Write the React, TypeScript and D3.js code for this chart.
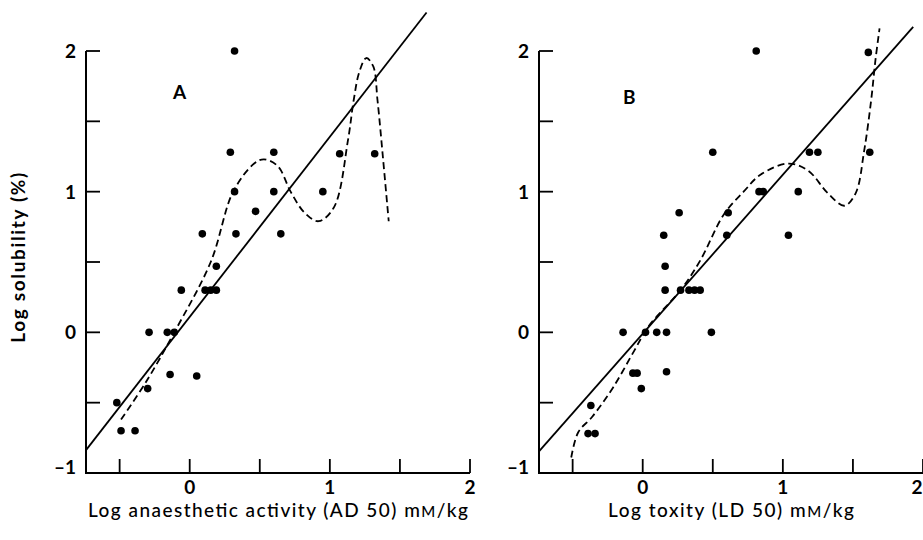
import { useEffect, useRef } from "react";
import * as d3 from "d3";

// values: [log x, log solubility]
const pointsA: [number, number][] = [
  [0.32, 2.0], [0.29, 1.28], [0.6, 1.28], [1.07, 1.27], [1.32, 1.27],
  [0.32, 1.0], [0.6, 1.0], [0.95, 1.0], [0.47, 0.86], [0.09, 0.7],
  [0.33, 0.7], [0.65, 0.7], [0.19, 0.47], [-0.06, 0.3], [0.11, 0.3],
  [0.15, 0.3], [0.19, 0.3], [-0.29, 0.0], [-0.16, 0.0], [-0.11, 0.0],
  [-0.14, -0.3], [0.05, -0.31], [-0.3, -0.4], [-0.52, -0.5],
  [-0.49, -0.7], [-0.39, -0.7],
];
const pointsB: [number, number][] = [
  [0.81, 2.0], [1.61, 1.99], [0.5, 1.28], [1.19, 1.28], [1.25, 1.28],
  [1.62, 1.28], [0.83, 1.0], [0.86, 1.0], [1.11, 1.0], [0.26, 0.85],
  [0.61, 0.85], [0.15, 0.69], [0.6, 0.69], [1.04, 0.69], [0.16, 0.47],
  [0.16, 0.3], [0.27, 0.3], [0.33, 0.3], [0.37, 0.3], [0.41, 0.3],
  [-0.14, 0.0], [0.02, 0.0], [0.1, 0.0], [0.17, 0.0], [0.49, 0.0],
  [-0.07, -0.29], [-0.04, -0.29], [0.17, -0.28], [-0.01, -0.4],
  [-0.37, -0.52], [-0.39, -0.72], [-0.34, -0.72],
];
// dashed curves
const curveA: [number, number][] = [
  [-0.49, -0.62], [-0.31, -0.35], [-0.11, 0.0], [0.15, 0.5], [0.31, 1.0],
  [0.46, 1.2], [0.53, 1.23], [0.63, 1.18], [0.72, 1.0], [0.82, 0.85],
  [0.92, 0.79], [1.03, 0.89], [1.13, 1.37], [1.17, 1.65], [1.21, 1.85],
  [1.26, 1.95], [1.31, 1.89], [1.34, 1.65], [1.38, 1.23], [1.42, 0.79],
];
const curveB: [number, number][] = [
  [-0.51, -0.89], [-0.46, -0.71], [-0.36, -0.6], [-0.21, -0.39],
  [-0.06, -0.13], [0.04, 0.04], [0.27, 0.3], [0.41, 0.51], [0.58, 0.84],
  [0.72, 1.0], [0.84, 1.12], [1.04, 1.2], [1.18, 1.15], [1.32, 0.99],
  [1.44, 0.9], [1.52, 0.99], [1.58, 1.29], [1.63, 1.65], [1.66, 1.93],
  [1.69, 2.16],
];
// regression lines: [x start, x end, intercept, slope]
const fitA = [-0.74, 1.69, 0.11, 1.28];
const fitB = [-0.74, 1.93, -0.01, 1.13];

const xTicks = [-0.5, 0, 0.5, 1, 1.5, 2];
const yTicks = [-0.5, 0, 0.5, 1, 1.5, 2];
const xLabels = [0, 1, 2];
const yLabels = [-1, 0, 1, 2];

const FONT = "Lato, 'Open Sans', sans-serif";

export default function App() {
  const ref = useRef<SVGSVGElement>(null);

  useEffect(() => {
    const svg = d3.select(ref.current);
    svg.selectAll("*").remove();

    const y = d3.scaleLinear().domain([-1, 2]).range([473, 51]);

    function panel(
      left: number,
      pts: [number, number][],
      curve: [number, number][],
      fit: number[],
      letter: string,
      letterPos: [number, number],
      xTitle: string,
      titleWidth: number,
      hasYTitle: boolean
    ) {
      const x = d3.scaleLinear().domain([-0.74, 2]).range([left, left + 384]);
      const g = svg.append("g");

      // axes
      g.append("line")
        .attr("x1", x(-0.74)).attr("x2", x(-0.74))
        .attr("y1", y(2)).attr("y2", y(-1) + 1)
        .attr("stroke", "#000").attr("stroke-width", 2);
      g.append("line")
        .attr("x1", x(-0.74) - 1).attr("x2", x(2))
        .attr("y1", y(-1)).attr("y2", y(-1))
        .attr("stroke", "#000").attr("stroke-width", 2);

      g.selectAll(".yt").data(yTicks).enter().append("line")
        .attr("x1", x(-0.74)).attr("x2", x(-0.74) + 14)
        .attr("y1", (d) => y(d)).attr("y2", (d) => y(d))
        .attr("stroke", "#000").attr("stroke-width", 1.8);
      g.selectAll(".xt").data(xTicks).enter().append("line")
        .attr("x1", (d) => x(d)).attr("x2", (d) => x(d))
        .attr("y1", y(-1)).attr("y2", y(-1) - 14)
        .attr("stroke", "#000").attr("stroke-width", 1.8);

      g.selectAll(".yl").data(yLabels).enter().append("text")
        .attr("x", x(-0.74) - 10)
        .attr("y", (d) => y(d) + (d === -1 ? 1 : 7))
        .attr("text-anchor", "end")
        .attr("font-family", FONT).attr("font-size", 19).attr("font-weight", 700)
        .text((d) => (d < 0 ? "\u2013" + Math.abs(d) : String(d)));
      g.selectAll(".xl").data(xLabels).enter().append("text")
        .attr("x", (d) => Math.min(x(d), 917)).attr("y", 494)
        .attr("text-anchor", "middle")
        .attr("font-family", FONT).attr("font-size", 19).attr("font-weight", 700)
        .text((d) => String(d));

      // regression line
      g.append("line")
        .attr("x1", x(fit[0])).attr("y1", y(fit[2] + fit[3] * fit[0]))
        .attr("x2", x(fit[1])).attr("y2", y(fit[2] + fit[3] * fit[1]))
        .attr("stroke", "#000").attr("stroke-width", 1.8);

      // dashed curve
      const line = d3.line<[number, number]>()
        .x((d) => x(d[0])).y((d) => y(d[1]))
        .curve(d3.curveCatmullRom.alpha(0.5));
      g.append("path")
        .attr("d", line(curve))
        .attr("fill", "none").attr("stroke", "#000")
        .attr("stroke-width", 1.8).attr("stroke-dasharray", "7,4");

      g.selectAll(".pt").data(pts).enter().append("circle")
        .attr("cx", (d) => x(d[0])).attr("cy", (d) => y(d[1]))
        .attr("r", 3.8).attr("fill", "#000");

      g.append("text")
        .attr("x", x(letterPos[0])).attr("y", y(letterPos[1]))
        .attr("font-family", FONT).attr("font-size", 19).attr("font-weight", 700)
        .text(letter);

      const t = g.append("text")
        .attr("x", x(0.63)).attr("y", 517)
        .attr("text-anchor", "middle")
        .attr("font-family", FONT).attr("font-size", 19).attr("font-weight", 500)
        .attr("textLength", titleWidth).attr("lengthAdjust", "spacing")
        .text(xTitle + " m");
      t.append("tspan").attr("font-size", 15).text("M");
      t.append("tspan").text("/kg");

      if (hasYTitle) {
        g.append("text")
          .attr("transform", `translate(25, ${y(0.53)}) rotate(-90)`)
          .attr("text-anchor", "middle")
          .attr("font-family", FONT).attr("font-size", 19).attr("font-weight", 700)
          .attr("textLength", 170).attr("lengthAdjust", "spacing")
          .text("Log solubility (%)");
      }
    }

    panel(86, pointsA, curveA, fitA, "A", [-0.12, 1.66], "Log anaesthetic activity (AD 50)", 380, true);
    panel(539, pointsB, curveB, fitB, "B", [-0.14, 1.62], "Log toxity (LD 50)", 246, false);
  }, []);

  return (
    <svg
      ref={ref}
      width={923}
      height={540}
      style={{ position: "absolute", left: 0, top: 0, background: "#fff" }}
    />
  );
}
